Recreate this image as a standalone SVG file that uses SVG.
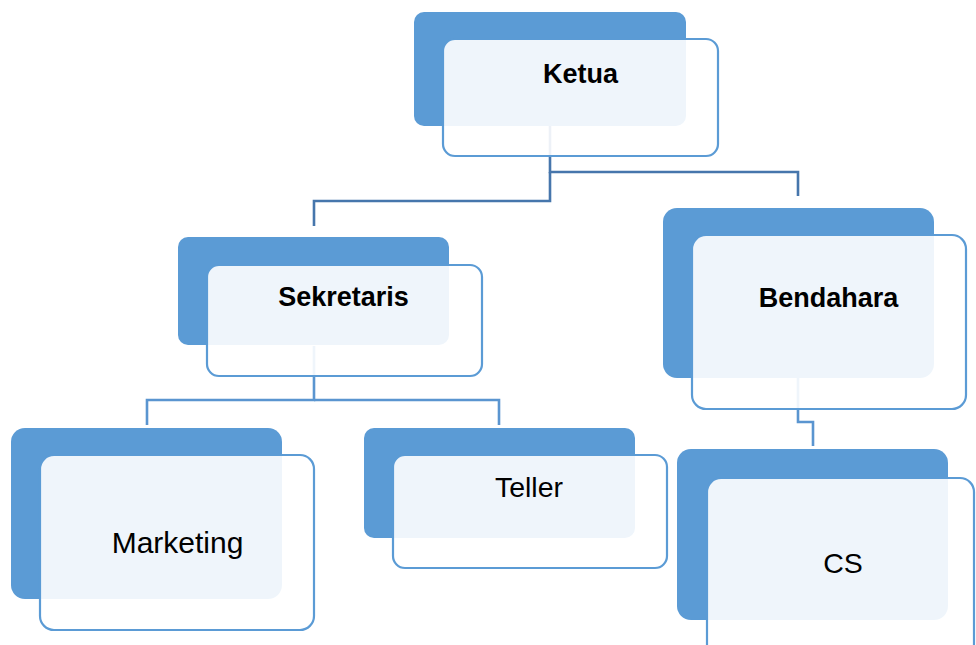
<svg xmlns="http://www.w3.org/2000/svg" width="976" height="645" viewBox="0 0 976 645">
<style>
.back{fill:#5B9BD5;}
.front{fill:#FFFFFF;fill-opacity:0.9;stroke:#5B9BD5;stroke-width:2.2;}
.c1{fill:none;stroke:#4676AC;stroke-width:2.6;}
.c2{fill:none;stroke:#5A95D0;stroke-width:2.6;}
.b{font-family:"Liberation Sans",Arial,sans-serif;font-weight:bold;font-size:27px;fill:#000;text-anchor:middle;}
.r{font-family:"Liberation Sans",Arial,sans-serif;font-size:28.5px;fill:#000;text-anchor:middle;}
</style>
<rect width="976" height="645" fill="#FFFFFF"/>
<g id="connectors">
<path class="c1" d="M550,126 V172 H798 V196"/>
<path class="c1" d="M550,172 V201 H314 V226"/>
<path class="c2" d="M314,346 V400 H147 V425"/>
<path class="c2" d="M314,400 H499 V425"/>
<path class="c2" d="M798,378 V422 H813 V446"/>
</g>
<g id="ketua">
<rect class="back" x="414" y="12" width="272" height="114" rx="10"/>
<rect class="front" x="443" y="39" width="275" height="117" rx="12"/>
<text class="b" x="580.5" y="83">Ketua</text>
</g>
<g id="sekretaris">
<rect class="back" x="178" y="237" width="271" height="108" rx="10"/>
<rect class="front" x="207" y="265" width="275" height="111" rx="12"/>
<text class="b" x="343.5" y="306">Sekretaris</text>
</g>
<g id="bendahara">
<rect class="back" x="663" y="208" width="271" height="170" rx="14"/>
<rect class="front" x="692" y="235" width="274" height="174" rx="14"/>
<text class="b" x="828.5" y="307">Bendahara</text>
</g>
<g id="marketing">
<rect class="back" x="11" y="428" width="271" height="171" rx="14"/>
<rect class="front" x="40" y="455" width="274" height="175" rx="14"/>
<text class="r" x="177.5" y="553" style="font-size:30px">Marketing</text>
</g>
<g id="teller">
<rect class="back" x="364" y="428" width="271" height="110" rx="10"/>
<rect class="front" x="393" y="455" width="274" height="113" rx="12"/>
<text class="r" x="529" y="497">Teller</text>
</g>
<g id="cs">
<rect class="back" x="677" y="449" width="271" height="171" rx="14"/>
<rect class="front" x="707" y="478" width="267" height="180" rx="14"/>
<text class="r" x="843" y="573">CS</text>
</g>
</svg>
